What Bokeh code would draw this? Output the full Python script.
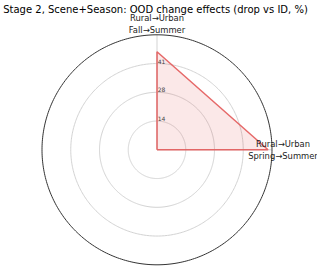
import numpy as np
from bokeh.plotting import figure
from bokeh.core.properties import value
from bokeh.embed import file_html
from bokeh.resources import INLINE

# data
categories = ["Rural\u2192Urban\nFall\u2192Summer", "Rural\u2192Urban\nSpring\u2192Summer"]
drops = [46.9, 53.1]
angles_deg = [90, 0]
r_max = 55.0
tick_values = [13.75, 27.5, 41.25]
tick_labels = ["14", "28", "41"]
title = "Stage 2, Scene+Season: OOD change effects (drop vs ID, %)"

W, H = 317, 266
cx, cy = 156.5, 149.3   # center in pixels
s = 115.0 / r_max      # pixels per unit

p = figure(width=W, height=H, output_backend="svg", toolbar_location=None,
           x_range=(-cx / s, (W - cx) / s), y_range=(-(H - cy) / s, cy / s),
           min_border=0, outline_line_color=None)
p.axis.visible = False
p.grid.visible = False
p.background_fill_color = "white"

th = np.linspace(0, 2 * np.pi, 361)
for t in tick_values:
    p.line(t * np.cos(th), t * np.sin(th), line_color="#d3d3d3", line_width=1)
for a in angles_deg:
    ar = np.deg2rad(a)
    p.line([0, r_max * np.cos(ar)], [0, r_max * np.sin(ar)], line_color="#d3d3d3", line_width=1)
p.line(r_max * np.cos(th), r_max * np.sin(th), line_color="#333333", line_width=1)

px = [0.0] + [d * np.cos(np.deg2rad(a)) for d, a in zip(drops, angles_deg)]
py = [0.0] + [d * np.sin(np.deg2rad(a)) for d, a in zip(drops, angles_deg)]
px.append(0.0)
py.append(0.0)
p.patch(px, py, fill_color="#e34a4a", fill_alpha=0.13, line_color=None)
p.line(px, py, line_color="#e35a5a", line_width=1.5, line_alpha=0.9)

p.text(x=[0.3] * len(tick_values), y=tick_values, text=tick_labels,
       text_font=value("DejaVu Sans"), text_font_size="6px", text_color="#444444",
       text_align="left", text_baseline="bottom")

lab_r = 126.0 / s
lx = [lab_r * np.cos(np.deg2rad(a)) for a in angles_deg]
ly = [lab_r * np.sin(np.deg2rad(a)) for a in angles_deg]
p.text(x=lx, y=ly, text=categories, text_font=value("DejaVu Sans"),
       text_font_size="8.4px", text_color="#222222", text_align="center",
       text_baseline="middle", text_line_height=1.25)

p.text(x=[(155 - cx) / s], y=[(cy - 9) / s], text=[title], text_font=value("DejaVu Sans"),
       text_font_size="10px", text_color="black", text_align="center", text_baseline="middle")

open("out.html", "w").write(file_html(p, INLINE))
